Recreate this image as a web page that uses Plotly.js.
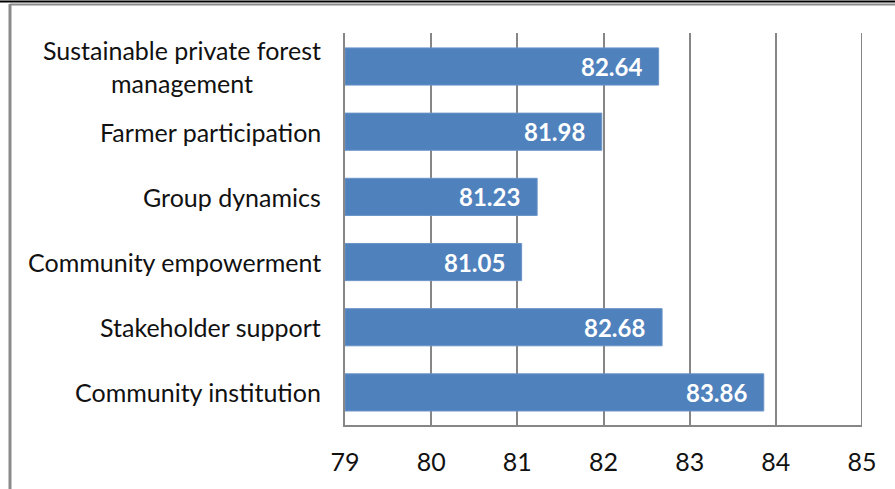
<!DOCTYPE html>
<html>
<head>
<meta charset="utf-8">
<script src="https://cdn.plot.ly/plotly-3.0.1.min.js"></script>
<style>
html,body{margin:0;padding:0;background:#fff;}
#chart{width:895px;height:489px;}
</style>
</head>
<body>
<div id="chart"></div>
<script>
// Data (top to bottom)
var categories = [
  "Sustainable private forest<br>management",
  "Farmer participation",
  "Group dynamics",
  "Community empowerment",
  "Stakeholder support",
  "Community institution"
];
var values = [82.64, 81.98, 81.23, 81.05, 82.68, 83.86];
var xTicks = [79, 80, 81, 82, 83, 84, 85];
var axisMin = 79, axisMax = 85;

var W = 895, H = 489;
var M = {l: 345, r: 33, t: 33, b: 64};
var pw = W - M.l - M.r, ph = H - M.t - M.b;
function px(x){ return (x - M.l) / pw; }
function py(y){ return (H - M.b - y) / ph; }

var FONT = "Lato, 'Open Sans', sans-serif";
var gray = "#868686";

var trace = {
  type: "bar",
  orientation: "h",
  y: categories,
  x: values.map(function(v){ return v - axisMin; }),
  base: axisMin,
  marker: {color: "#4F81BD", line: {color: "#6A93C8", width: 1}},
  hoverinfo: "none"
};

var annotations = [];
categories.forEach(function(c, i){
  annotations.push({
    x: values[i], y: c, xref: "x", yref: "y",
    text: values[i].toFixed(2), showarrow: false,
    xanchor: "right", xshift: -15,
    font: {family: FONT, size: 24, color: "#ffffff", weight: "bold"}
  });
  annotations.push({
    x: 0, y: c, xref: "paper", yref: "y",
    text: c, showarrow: false,
    xanchor: "right", xshift: -22, align: "center",
    font: {family: FONT, size: 25, color: "#111111"}
  });
});

var shapes = [
  {type: "line", xref: "paper", yref: "paper", x0: px(0), x1: px(W), y0: py(1.5), y1: py(1.5), line: {color: "#000000", width: 2}},
  {type: "line", xref: "paper", yref: "paper", x0: px(10), x1: px(W), y0: py(4.5), y1: py(4.5), line: {color: "#8a8a8a", width: 2}},
  {type: "line", xref: "paper", yref: "paper", x0: px(10), x1: px(10), y0: py(4), y1: py(H), line: {color: "#8a8a8a", width: 3}},
  // gridline at the axis maximum (Plotly omits it at the range edge)
  {type: "line", xref: "x", yref: "paper", x0: axisMax, x1: axisMax, y0: 0, y1: 1, line: {color: gray, width: 2}, layer: "below"}
];

var layout = {
  width: W, height: H,
  margin: M,
  paper_bgcolor: "#ffffff",
  plot_bgcolor: "#ffffff",
  showlegend: false,
  bargap: 0.43,
  font: {family: FONT, color: "#111111"},
  xaxis: {
    range: [axisMin, axisMax],
    tickvals: xTicks,
    ticktext: xTicks.map(String),
    showgrid: true, gridcolor: gray, gridwidth: 2,
    showline: true, linecolor: gray, linewidth: 2,
    zeroline: false,
    ticks: "",
    ticklabelstandoff: 14,
    tickfont: {family: FONT, size: 25, color: "#111111"},
    fixedrange: true
  },
  yaxis: {
    autorange: "reversed",
    showticklabels: false,
    showgrid: false,
    showline: true, linecolor: gray, linewidth: 2,
    zeroline: false,
    ticks: "",
    fixedrange: true
  },
  annotations: annotations,
  shapes: shapes
};

Plotly.newPlot("chart", [trace], layout, {displayModeBar: false, staticPlot: true});
</script>
</body>
</html>
